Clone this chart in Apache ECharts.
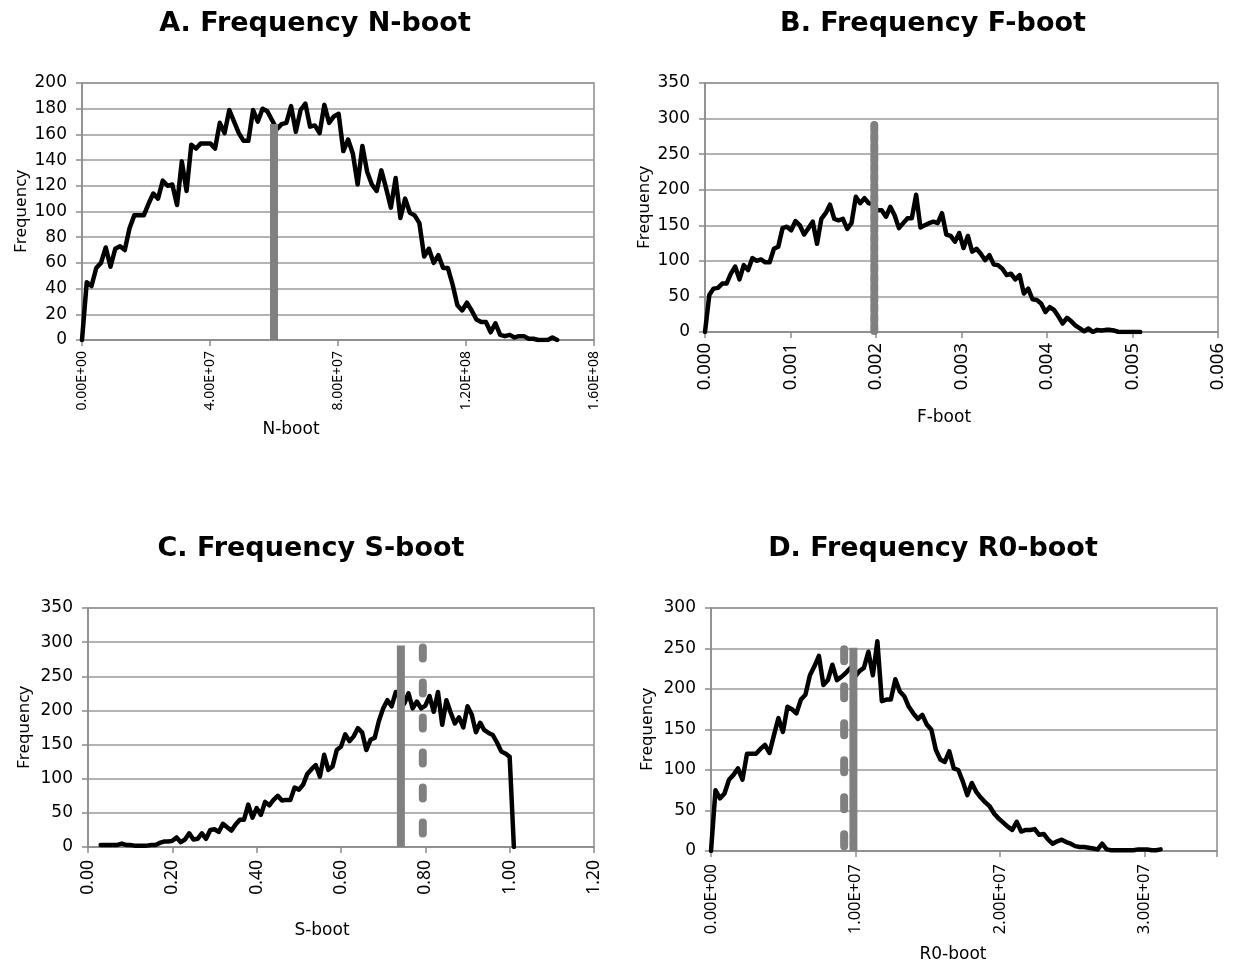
<!DOCTYPE html>
<html>
<head>
<meta charset="utf-8">
<title>Bootstrap frequency distributions</title>
<script src="https://cdn.jsdelivr.net/npm/echarts@6/dist/echarts.min.js"></script>
<style>
  html, body { margin: 0; padding: 0; background: #fff; }
  #chart { width: 1236px; height: 966px; }
</style>
</head>
<body>
<div id="chart"></div>
<script>
// Bootstrap histograms: frequency per bin, bins evenly spaced from a start value.
const nBinStart = 0, nBinWidth = 1.485e6;
const nBootFreq = [
  0,45,42,56,60,72,57,71,73,70, 87,97,97,97,106,114,110,124,120,121,
  105,139,116,152,149,153,153,153,149,169, 161,179,170,161,155,155,179,170,180,178,
  171,164,168,169,182,162,179,184,166,167, 161,183,169,174,176,147,156,145,121,151,
  131,121,116,132,118,103,126,95,110,99, 97,91,65,71,60,66,56,56,43,27,
  23,29,23,16,14,14,6,13,4,3, 4,2,3,3,1,1,0,0,0,2, 0
];

const fBinStart = 0, fBinWidth = 5.04e-5;
const fBootFreq = [
  0,52,61,62,68,68,82,92,74,94, 87,104,100,102,98,98,117,120,146,148,
  143,156,150,137,146,155,124,159,167,179, 159,157,159,145,153,190,181,188,181,179,
  171,171,162,176,164,146,153,160,160,193, 147,150,153,155,153,167,137,135,127,139,
  118,135,113,117,110,101,108,95,94,89, 80,82,74,80,54,61,46,45,40,28,
  35,31,22,12,20,15,9,5,1,5, 0,3,2,3,3,2,0,0,0,0, 0,0
];

const sBinStart = 0.03, sBinWidth = 0.01;
const sBootFreq = [
  3,3,3,3,3,5,3,3,2,2, 2,2,3,3,6,8,8,9,14,7,
  11,20,11,12,20,12,25,26,22,34, 29,24,33,40,40,62,43,57,47,66,
  61,69,75,68,69,69,87,84,91,107, 114,120,103,135,113,118,142,147,165,155,
  162,174,168,142,157,160,185,203,215,206, 227,218,210,225,203,213,203,207,221,198,
  227,179,215,197,181,190,175,206,194,168, 182,171,167,164,153,140,137,132,0
];

const rBinStart = 0, rBinWidth = 3.11e5;
const r0BootFreq = [
  0,75,65,71,88,94,102,88,120,120, 120,126,131,121,143,164,147,178,175,170,
  187,193,217,228,241,205,211,230,211,215, 220,226,215,222,226,246,217,259,185,187,
  187,212,197,191,178,170,163,168,156,150, 125,113,110,123,102,100,86,69,84,73,
  66,60,55,46,40,35,30,26,36,24, 26,26,27,20,21,14,9,12,14,11,
  9,6,5,5,4,3,2,9,2,1, 1,1,1,1,1,2,2,2,1,1, 2
];

// Reference markers: [position, height]
const nMarkSolid = [6.0e7, 168];
const fMarkDotted = [0.00198, 291];
const sMarkSolid = [0.742, 295];
const sMarkDashed = [0.794, 292];
const rMarkDashed = [0.921e7, 249];
const rMarkSolid = [0.985e7, 251];

// Axis tick labels
const nTicks = ['0.00E+00', '4.00E+07', '8.00E+07', '1.20E+08', '1.60E+08'];
const fTicks = ['0.000', '0.001', '0.002', '0.003', '0.004', '0.005', '0.006'];
const sTicks = ['0.00', '0.20', '0.40', '0.60', '0.80', '1.00', '1.20'];
const rTicks = ['0.00E+00', '1.00E+07', '2.00E+07', '3.00E+07'];

const titles = ['A. Frequency N-boot', 'B. Frequency F-boot', 'C. Frequency S-boot', 'D. Frequency R0-boot'];
const xNames = ['N-boot', 'F-boot', 'S-boot', 'R0-boot'];
const yName = 'Frequency';

function binned(start, width, freq) {
  return freq.map((f, i) => [start + i * width, f]);
}

const AXIS_GRAY = '#8c8c8c';
const GRID_GRAY = '#9a9a9a';
const MARK_GRAY = '#808080';

const panels = [
  { grid: { left: 82, top: 83, width: 512, height: 257 },
    x: { max: 1.6e8, interval: 4e7, ticks: nTicks, fontSize: 14, margin: 11 },
    y: { max: 200, interval: 20, nameGap: 52 },
    data: binned(nBinStart, nBinWidth, nBootFreq) },
  { grid: { left: 705, top: 83, width: 513, height: 249 },
    x: { max: 0.006, interval: 0.001, ticks: fTicks, fontSize: 18.5, margin: 11 },
    y: { max: 350, interval: 50, nameGap: 52 },
    data: binned(fBinStart, fBinWidth, fBootFreq) },
  { grid: { left: 88, top: 608, width: 506, height: 239 },
    x: { max: 1.2, interval: 0.2, ticks: sTicks, fontSize: 17.5, margin: 13 },
    y: { max: 350, interval: 50, nameGap: 55 },
    data: binned(sBinStart, sBinWidth, sBootFreq) },
  { grid: { left: 711, top: 608, width: 506, height: 243 },
    x: { max: 3.5e7, interval: 1e7, ticks: rTicks, fontSize: 16.5, margin: 13 },
    y: { max: 300, interval: 50, nameGap: 55 },
    data: binned(rBinStart, rBinWidth, r0BootFreq) }
];

const xAxis = panels.map((p, i) => ({
  type: 'value', gridIndex: i, min: 0, max: p.x.max, interval: p.x.interval,
  axisLine: { show: true, onZero: false, lineStyle: { color: AXIS_GRAY, width: 1.5 } },
  axisTick: { show: true, inside: false, length: 6, lineStyle: { color: AXIS_GRAY, width: 1.5 } },
  splitLine: { show: false },
  axisLabel: {
    rotate: 90, margin: p.x.margin, color: '#000',
    fontFamily: 'Noto Sans', fontSize: p.x.fontSize,
    formatter: function (v) {
      const k = Math.round(v / p.x.interval);
      if (Math.abs(v - k * p.x.interval) > p.x.interval * 1e-6) return '';
      return p.x.ticks[k] !== undefined ? p.x.ticks[k] : '';
    }
  }
}));

const yAxis = panels.map((p, i) => ({
  type: 'value', gridIndex: i, min: 0, max: p.y.max, interval: p.y.interval,
  name: yName, nameLocation: 'middle', nameRotate: 90, nameGap: p.y.nameGap,
  nameTextStyle: { fontFamily: 'Noto Sans', fontSize: 17, color: '#000' },
  axisLine: { show: true, lineStyle: { color: AXIS_GRAY, width: 1.5 } },
  axisTick: { show: true, inside: false, length: 6, lineStyle: { color: AXIS_GRAY, width: 1.5 } },
  splitLine: { show: true, lineStyle: { color: GRID_GRAY, width: 1.5 } },
  axisLabel: { margin: 15, color: '#000', fontFamily: 'DejaVu Sans', fontSize: 17 }
}));

const series = panels.map((p, i) => ({
  type: 'line', xAxisIndex: i, yAxisIndex: i, data: p.data,
  symbol: 'none', showSymbol: false, z: 2,
  lineStyle: { color: '#000', width: 4.5, join: 'round', cap: 'round' }
}));

function marker(axis, mark, dash, cap) {
  return {
    type: 'line', xAxisIndex: axis, yAxisIndex: axis,
    data: [[mark[0], mark[1]], [mark[0], 0]],
    symbol: 'none', showSymbol: false, z: 3, silent: true,
    lineStyle: { color: MARK_GRAY, width: 8, type: dash, cap: cap }
  };
}
series.push(marker(0, nMarkSolid, 'solid', 'butt'));
series.push(marker(1, fMarkDotted, [6, 4], 'round'));
series.push(marker(2, sMarkSolid, 'solid', 'butt'));
series.push(marker(2, sMarkDashed, [11, 24], 'round'));
series.push(marker(3, rMarkDashed, [12, 25], 'round'));
series.push(marker(3, rMarkSolid, 'solid', 'butt'));

const titlePos = [[315, 24], [933, 24], [311, 549], [933, 549]];
const xNamePos = [[291, 430], [944, 418], [322, 931], [953, 955]];

const graphic = [];
titles.forEach((t, i) => graphic.push({
  type: 'text', x: titlePos[i][0], y: titlePos[i][1],
  style: { text: t, fill: '#000', font: 'bold 27px "DejaVu Sans"',
           align: 'center', verticalAlign: 'middle', textAlign: 'center', textVerticalAlign: 'middle' }
}));
xNames.forEach((t, i) => graphic.push({
  type: 'text', x: xNamePos[i][0], y: xNamePos[i][1],
  style: { text: t, fill: '#000', font: '17px "DejaVu Sans"',
           align: 'center', verticalAlign: 'middle', textAlign: 'center', textVerticalAlign: 'middle' }
}));

const chart = echarts.init(document.getElementById('chart'), null, { renderer: 'canvas' });
chart.setOption({
  animation: false,
  backgroundColor: '#fff',
  grid: panels.map(p => Object.assign({ show: true, borderColor: AXIS_GRAY, borderWidth: 1.5, containLabel: false }, p.grid)),
  xAxis: xAxis,
  yAxis: yAxis,
  series: series,
  graphic: graphic
});
</script>
</body>
</html>
